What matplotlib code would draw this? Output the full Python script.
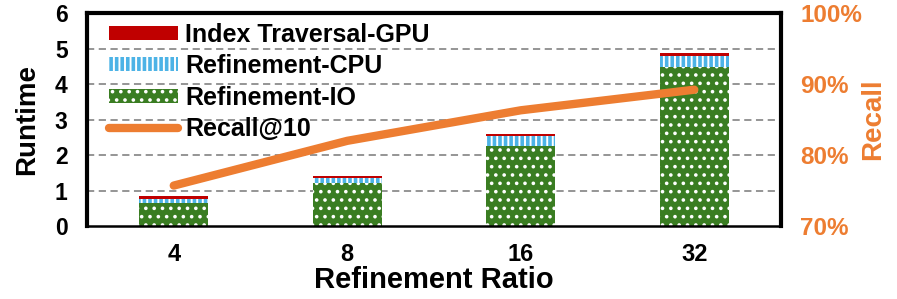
import matplotlib
matplotlib.use("Agg")
import matplotlib.pyplot as plt
from matplotlib.patches import Patch
from matplotlib.lines import Line2D
import numpy as np

# --------------------------------------------------------------------------- #
# Data
# --------------------------------------------------------------------------- #
ratios = ["4", "8", "16", "32"]
refine_io = [0.65, 1.22, 2.25, 4.48]
refine_cpu = [0.12, 0.12, 0.28, 0.30]
index_gpu = [0.08, 0.07, 0.07, 0.10]
recall = [75.7, 82.0, 86.3, 89.2]

C_GPU = "#C00000"
C_CPU = "#4DB3E6"
C_IO = "#3A7D22"
C_RECALL = "#ED7D31"

plt.rcParams["font.family"] = ["Liberation Sans", "DejaVu Sans"]
plt.rcParams["font.weight"] = "bold"
plt.rcParams["hatch.linewidth"] = 1.4

fig = plt.figure(figsize=(8.97, 2.99), dpi=100)
ax = fig.add_axes([0.097, 0.244, 0.7737, 0.7125])

x = np.arange(len(ratios))
w = 0.4
io = np.array(refine_io)
cpu = np.array(refine_cpu)
gpu = np.array(index_gpu)

ax.bar(x, io, w, color=C_IO, edgecolor="white", linewidth=0, hatch="..", zorder=2)
ax.bar(x, cpu, w, bottom=io, color=C_CPU, edgecolor="white", linewidth=0,
       hatch="|||", zorder=2)
ax.bar(x, gpu, w, bottom=io + cpu, color=C_GPU, linewidth=0, zorder=2)

ax.set_xlim(-0.5, len(ratios) - 0.5)
ax.set_ylim(0, 6)
ax.set_yticks(range(7))
ax.set_xticks(x)
ax.set_xticklabels(ratios)
ax.tick_params(axis="both", length=0)
ax.tick_params(axis="y", pad=14, labelsize=16.5)
ax.tick_params(axis="x", pad=12, labelsize=17)
for yv in range(1, 6):
    ax.axhline(yv, color="#8C8C8C", lw=1.3, ls=(0, (4, 2.5)), zorder=1)

for s in ["left", "top", "right"]:
    ax.spines[s].set_linewidth(3)
ax.spines["bottom"].set_linewidth(1.8)

ax.set_xlabel("Refinement Ratio", fontsize=21, fontweight="bold", va="center")
ax.xaxis.set_label_coords(0.5, -0.255)
ax.set_ylabel("Runtime", fontsize=20, fontweight="bold", va="center")
ax.yaxis.set_label_coords(-0.0865, 0.5)

ax2 = ax.twinx()
ax2.plot(x, recall, color=C_RECALL, lw=6, solid_capstyle="round", zorder=3)
ax2.set_ylim(70, 100)
ax2.set_yticks([70, 80, 90, 100])
ax2.set_yticklabels(["70%", "80%", "90%", "100%"])
ax2.tick_params(axis="y", length=0, labelsize=17.5, labelcolor=C_RECALL, pad=14)
for s in ax2.spines.values():
    s.set_visible(False)
ax2.set_ylabel("Recall", fontsize=20, fontweight="bold", color=C_RECALL, va="center")
ax2.yaxis.set_label_coords(1.1326, 0.5)

handles = [
    Patch(facecolor=C_GPU, edgecolor="none"),
    Patch(facecolor=C_CPU, edgecolor="white", linewidth=0, hatch="|||"),
    Patch(facecolor=C_IO, edgecolor="white", linewidth=0, hatch=".."),
    Line2D([0], [0], color=C_RECALL, lw=6, solid_capstyle="round"),
]
labels = ["Index Traversal-GPU", "Refinement-CPU", "Refinement-IO", "Recall@10"]
leg = ax2.legend(handles, labels, loc="upper left", bbox_to_anchor=(0.028, 0.967),
                 frameon=False, fontsize=18, handlelength=2.75, handleheight=0.5,
                 handletextpad=0.3, labelspacing=0.3, borderaxespad=0.0,
                 borderpad=0.1)

fig.savefig("out.png", dpi=100)
